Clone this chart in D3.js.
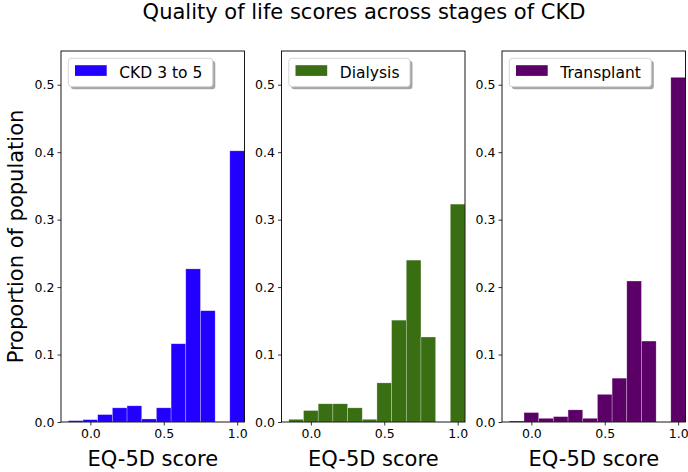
<!DOCTYPE html>
<html>
<head>
<meta charset="utf-8">
<script src="https://cdn.jsdelivr.net/npm/d3@7"></script>
<style>
  html, body { margin: 0; padding: 0; background: #fff; }
  svg text { font-family: "DejaVu Sans", sans-serif; fill: #000; }
</style>
</head>
<body>
<svg id="chart" width="688" height="472"></svg>
<script>
// ---- data ----
const binStarts = [-0.15, -0.05, 0.05, 0.15, 0.25, 0.35, 0.45, 0.55, 0.65, 0.75, 0.85, 0.95];
const binWidth = 0.1;
const seriesNames = ["CKD 3 to 5", "Dialysis", "Transplant"];
const ckdValues = [0.002, 0.0035, 0.011, 0.021, 0.024, 0.0045, 0.021, 0.116, 0.227, 0.165, 0, 0.402];
const dialysisValues = [0.004, 0.017, 0.027, 0.027, 0.021, 0.004, 0.058, 0.151, 0.240, 0.126, 0, 0.323];
const transplantValues = [0.0015, 0.014, 0.0055, 0.008, 0.018, 0.0055, 0.041, 0.065, 0.209, 0.120, 0, 0.511];
const seriesColors = ["#2200ff", "#3a6e13", "#5b0066"];
const xTicks = [0.0, 0.5, 1.0];
const yTicks = [0.0, 0.1, 0.2, 0.3, 0.4, 0.5];
const title = "Quality of life scores across stages of CKD";
const xLabel = "EQ-5D score";
const yLabel = "Proportion of population";

const series = [ckdValues, dialysisValues, transplantValues];

// ---- layout ----
const svg = d3.select("#chart");
const panelLefts = [61, 281.5, 502];
const panelW = 183.5;
const plotTop = 51, plotBottom = 422;

svg.append("text")
  .attr("x", 364).attr("y", 19)
  .attr("text-anchor", "middle")
  .style("font-size", "21px")
  .text(title);

svg.append("text")
  .attr("transform", `translate(23,${(plotTop + plotBottom) / 2}) rotate(-90)`)
  .attr("text-anchor", "middle")
  .style("font-size", "21px")
  .text(yLabel);

const y = d3.scaleLinear().domain([0, 0.55]).range([plotBottom, plotTop]);

series.forEach((vals, i) => {
  const left = panelLefts[i];
  const x = d3.scaleLinear().domain([-0.2, 1.05]).range([left, left + panelW]);
  const g = svg.append("g");

  // bars
  g.selectAll("rect.bar")
    .data(binStarts.map((b, j) => ({ x0: b, x1: b + binWidth, v: vals[j] })).filter(d => d.v > 0))
    .enter().append("rect")
    .attr("class", "bar")
    .attr("x", d => x(d.x0))
    .attr("width", d => x(d.x1) - x(d.x0))
    .attr("y", d => y(d.v))
    .attr("height", d => y(0) - y(d.v))
    .attr("fill", seriesColors[i])
    .attr("stroke", "#ffffff")
    .attr("stroke-opacity", 0.45)
    .attr("stroke-width", 0.6);

  // axes
  const xAxis = d3.axisBottom(x).tickValues(xTicks).tickFormat(d3.format(".1f"))
    .tickSize(3.5).tickPadding(3.5);
  const gx = g.append("g").attr("transform", `translate(0,${plotBottom})`).call(xAxis);
  const yAxis = d3.axisLeft(y).tickValues(yTicks).tickFormat(d3.format(".1f"))
    .tickSize(3.5).tickPadding(3);
  const gy = g.append("g").attr("transform", `translate(${left},0)`).call(yAxis);
  [gx, gy].forEach(a => {
    a.select(".domain").remove();
    a.selectAll("line").attr("stroke", "#000").attr("stroke-width", 0.8);
    a.selectAll("text").style("font-size", "12.5px").style("font-family", "DejaVu Sans, sans-serif").attr("fill", "#000");
  });

  // frame
  g.append("rect")
    .attr("x", left).attr("y", plotTop)
    .attr("width", panelW).attr("height", plotBottom - plotTop)
    .attr("fill", "none").attr("stroke", "#000").attr("stroke-width", 0.9);

  // x label
  g.append("text")
    .attr("x", left + panelW / 2).attr("y", 466)
    .attr("text-anchor", "middle")
    .style("font-size", "21px")
    .text(xLabel);

  // legend
  const lx = left + 7.3, ly = plotTop + 7.3, lh = 28.4;
  const lg = g.append("g");
  const shadow = lg.append("rect");
  const box = lg.append("rect");
  lg.append("rect")
    .attr("x", lx + 6.7).attr("y", ly + 6.9)
    .attr("width", 31.7).attr("height", 10.7)
    .attr("fill", seriesColors[i]);
  const t = lg.append("text")
    .attr("x", lx + 51).attr("y", ly + 19.3)
    .style("font-size", "15.5px")
    .text(seriesNames[i]);
  const tw = t.node().getComputedTextLength();
  const lw = 51 + tw + 10.5;
  shadow.attr("x", lx + 2.5).attr("y", ly + 2.5).attr("width", lw).attr("height", lh)
    .attr("rx", 3).attr("fill", "#000").attr("fill-opacity", 0.35);
  box.attr("x", lx).attr("y", ly).attr("width", lw).attr("height", lh)
    .attr("rx", 3).attr("fill", "#fff").attr("stroke", "#cccccc").attr("stroke-width", 0.8);
});
</script>
</body>
</html>
